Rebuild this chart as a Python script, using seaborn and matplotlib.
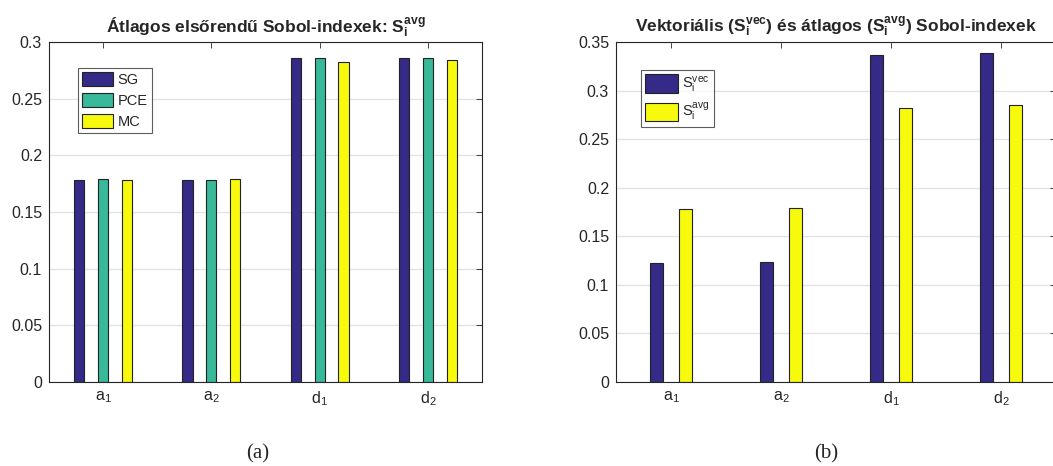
import numpy as np
import pandas as pd
import matplotlib
matplotlib.use('Agg')
import matplotlib.pyplot as plt
import seaborn as sns

# adatok
categories = [r'$\mathregular{a_1}$', r'$\mathregular{a_2}$',
              r'$\mathregular{d_1}$', r'$\mathregular{d_2}$']
sg_vals = [0.178, 0.178, 0.286, 0.286]
pce_vals = [0.179, 0.178, 0.286, 0.286]
mc_vals = [0.178, 0.179, 0.282, 0.284]

svec_vals = [0.123, 0.124, 0.337, 0.339]
savg_vals = [0.178, 0.179, 0.282, 0.285]

methods = ['SG', 'PCE', 'MC']
index_names = [r'$\mathregular{S_i^{vec}}$', r'$\mathregular{S_i^{avg}}$']

blue = '#352A87'
teal = '#38B99A'
yellow = '#F8FA0D'

sns.set_theme(style='white')
plt.rcParams['font.family'] = ['Liberation Sans', 'DejaVu Sans']
plt.rcParams['mathtext.fontset'] = 'custom'
plt.rcParams['mathtext.rm'] = 'Liberation Sans'
plt.rcParams['mathtext.it'] = 'Liberation Sans'
plt.rcParams['mathtext.bf'] = 'Liberation Sans:bold'

df_a = pd.DataFrame({
    'cat': categories * 3,
    'val': sg_vals + pce_vals + mc_vals,
    'method': [m for m in methods for _ in categories],
})
df_b = pd.DataFrame({
    'cat': categories * 2,
    'val': svec_vals + savg_vals,
    'idx': [n for n in index_names for _ in categories],
})

fig = plt.figure(figsize=(10.53, 4.66), dpi=100)
ax1 = fig.add_axes([49 / 1053, 1 - 382 / 466, 433 / 1053, 340 / 466])
ax2 = fig.add_axes([616 / 1053, 1 - 382 / 466, 440 / 1053, 340 / 466])

sns.barplot(data=df_a, x='cat', y='val', hue='method', ax=ax1,
            palette=[blue, teal, yellow], width=0.66, gap=0.57,
            edgecolor='#222222', linewidth=0.8, saturation=1)
sns.barplot(data=df_b, x='cat', y='val', hue='idx', ax=ax2,
            palette=[blue, yellow], width=0.52, gap=0.56,
            edgecolor='#222222', linewidth=0.8, saturation=1)


def style_axes(ax, ymax, yticks):
    ax.set_xlim(-0.5, 3.5)
    ax.set_ylim(0, ymax)
    ax.set_yticks(yticks)
    ax.set_yticklabels([('%g' % t) for t in yticks])
    ax.set_xlabel('')
    ax.set_ylabel('')
    ax.yaxis.grid(True, color='#e3e3e3', linewidth=1)
    ax.set_axisbelow(True)
    ax.tick_params(axis='both', direction='in', length=4, width=0.6,
                   top=True, right=True, labelsize=11.5, colors='#262626',
                   pad=5)
    for sp in ax.spines.values():
        sp.set_color('#262626')
        sp.set_linewidth(0.8)


style_axes(ax1, 0.3, np.arange(0, 0.301, 0.05))
style_axes(ax2, 0.35, np.arange(0, 0.351, 0.05))

ax1.set_title(r'Átlagos elsőrendű Sobol-indexek: $\mathregular{S_i^{avg}}$',
              fontsize=12.5, fontweight='bold', pad=7)
ax2.set_title(r'Vektoriális ($\mathregular{S_i^{vec}}$) és átlagos '
              r'($\mathregular{S_i^{avg}}$) Sobol-indexek',
              fontsize=12.5, fontweight='bold', pad=7)

leg_specs = [
    (ax1, (0.067, 0.9235), 2.1, 1.08, 0.4),
    (ax2, (0.057, 0.918), 2.2, 1.58, 0.43),
]
for ax, anchor, hl, hh, ls in leg_specs:
    leg = ax.legend(loc='upper left', bbox_to_anchor=anchor, fontsize=10.5,
                    frameon=True, fancybox=False, handlelength=hl,
                    handleheight=hh, handletextpad=0.3, borderpad=0.3,
                    labelspacing=ls, borderaxespad=0)
    leg.get_frame().set_edgecolor('#333333')
    leg.get_frame().set_linewidth(0.8)

fig.text(258 / 1053, 1 - 454 / 466, '(a)', ha='center', va='center',
         fontsize=15, family='Liberation Serif')
fig.text(826 / 1053, 1 - 454 / 466, '(b)', ha='center', va='center',
         fontsize=15, family='Liberation Serif')

fig.savefig('out.png', dpi=100)
